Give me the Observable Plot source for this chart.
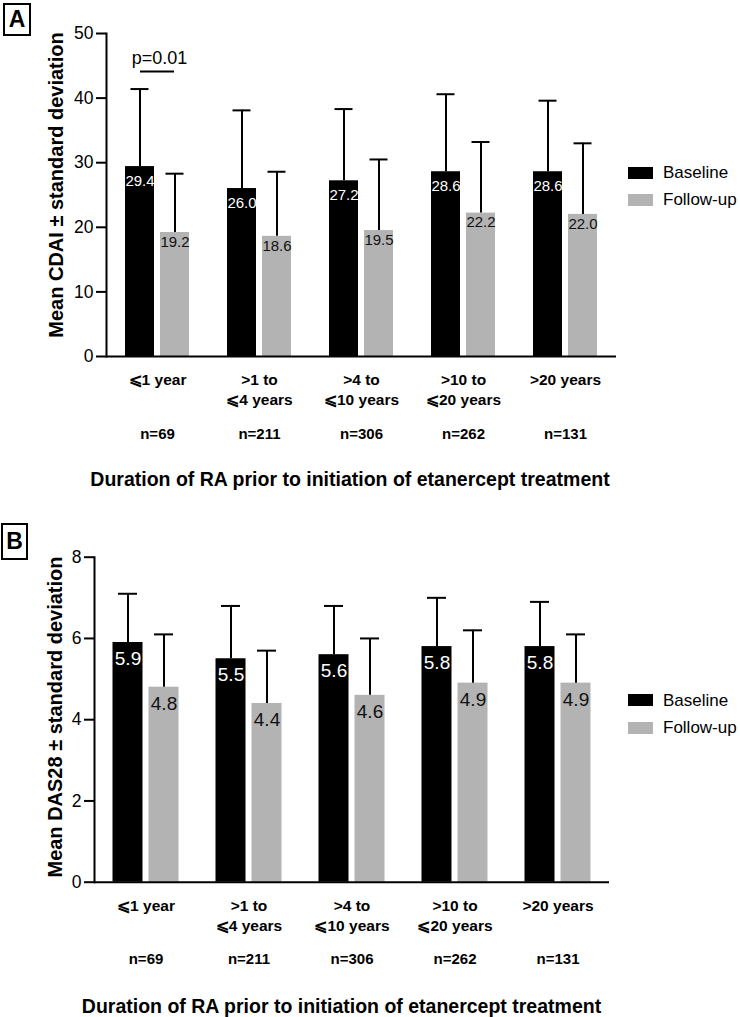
<!DOCTYPE html>
<html><head><meta charset="utf-8">
<script src="https://cdn.jsdelivr.net/npm/d3@7"></script>
<script src="https://cdn.jsdelivr.net/npm/@observablehq/plot@0.6"></script>
<style>
body{margin:0;background:#fff;font-family:"Liberation Sans",Arial,sans-serif;color:#000}
#wrap{position:relative;width:740px;height:1017px;overflow:hidden;background:#fff}
.plabel{position:absolute;border:2px solid #000;box-sizing:border-box;font-weight:bold;font-size:23px;text-align:center}
.ylab{position:absolute;width:400px;height:26px;line-height:26px;text-align:center;font-weight:bold;font-size:20px;transform:rotate(-90deg);white-space:nowrap}
.xtitle{position:absolute;width:700px;text-align:center;font-weight:bold;font-size:19.5px;white-space:nowrap;line-height:24px;height:24px}
.leg{position:absolute;font-size:17px;height:20px;line-height:20px;white-space:nowrap}
.leg span{display:inline-block;width:25px;height:12px;vertical-align:middle;margin-right:10px;position:relative;top:-1px}
</style></head><body><div id="wrap"></div>
<script>
const categories = ["⩽1 year", ">1 to\n⩽4 years", ">4 to\n⩽10 years", ">10 to\n⩽20 years", ">20 years"];
const sampleSizes = ["n=69", "n=211", "n=306", "n=262", "n=131"];
const series = ["Baseline", "Follow-up"];
const seriesColors = ["#000000", "#b3b3b3"];

const cdaiBaseline = [29.4, 26.0, 27.2, 28.6, 28.6];
const cdaiBaselineSD = [12.0, 12.1, 11.1, 12.0, 11.0];
const cdaiFollowup = [19.2, 18.6, 19.5, 22.2, 22.0];
const cdaiFollowupSD = [9.1, 10.0, 11.0, 11.0, 11.0];
const cdaiTicks = [0, 10, 20, 30, 40, 50];

const das28Baseline = [5.9, 5.5, 5.6, 5.8, 5.8];
const das28BaselineSD = [1.2, 1.3, 1.2, 1.2, 1.1];
const das28Followup = [4.8, 4.4, 4.6, 4.9, 4.9];
const das28FollowupSD = [1.3, 1.3, 1.4, 1.3, 1.2];
const das28Ticks = [0, 2, 4, 6, 8];

const pValueText = "p=0.01";
const pValueLevel = 44.1;

const xTitle = "Duration of RA prior to initiation of etanercept treatment";
const FONT = '"Liberation Sans", Arial, sans-serif';

function buildRows(base, baseSD, fu, fuSD) {
  const rows = [];
  categories.forEach((c, i) => {
    rows.push({category: c, series: series[0], mean: base[i], upper: base[i] + baseSD[i]});
    rows.push({category: c, series: series[1], mean: fu[i], upper: fu[i] + fuSD[i]});
  });
  return rows;
}

function panel(o) {
  const rows = o.rows;
  const marks = [
    Plot.barY(rows, {fx: "category", x: "series", y: "mean", fill: "series"}),
    Plot.ruleX(rows, {fx: "category", x: "series", y1: "mean", y2: "upper", stroke: "#000", strokeWidth: 2}),
    Plot.tickY(rows, {fx: "category", x: "series", y: "upper", stroke: "#000", strokeWidth: 2, insetLeft: 5.5, insetRight: 5.5}),
    Plot.text(rows.filter(d => d.series === series[0]), {fx: "category", x: "series", y: "mean", text: d => d.mean.toFixed(1), fill: "#fff", lineAnchor: "top", dy: o.baseDy, fontSize: o.valueSize}),
    Plot.text(rows.filter(d => d.series === series[1]), {fx: "category", x: "series", y: "mean", text: d => d.mean.toFixed(1), fill: "#111", lineAnchor: "top", dy: o.fuDy, fontSize: o.valueSize}),
    Plot.ruleY([0], {stroke: "#000", strokeWidth: 2}),
    Plot.frame({anchor: "left", facetAnchor: "left", stroke: "#000", strokeWidth: 2}),
    Plot.axisY({ticks: o.ticks, tickSize: 10, tickPadding: 3, fontSize: 17.5, strokeWidth: 2, label: null, tickFormat: d => String(d)}),
    Plot.axisFx({anchor: "bottom", tickSize: 0, tickPadding: 14.5, fontSize: 15.5, fontWeight: "bold", lineHeight: 1.29, label: null}),
    Plot.axisFx({anchor: "bottom", tickSize: 0, tickPadding: 71.5, fontSize: 15, fontWeight: "bold", label: null, tickFormat: d => sampleSizes[categories.indexOf(d)]})
  ];
  if (o.pval) {
    const pd = [{category: categories[0], y: pValueLevel}];
    marks.push(Plot.ruleY(pd, {fx: "category", x1: () => series[0], x2: () => series[1], y: "y", stroke: "#000", strokeWidth: 2, insetLeft: 15, insetRight: 15}));
    marks.push(Plot.text(pd, {fx: "category", y: "y", text: () => pValueText, dy: -13, dx: 2, fontSize: 18}));
  }
  return Plot.plot({
    width: 740, height: o.height,
    marginLeft: o.marginLeft, marginRight: o.marginRight, marginTop: o.marginTop, marginBottom: o.marginBottom,
    style: {fontFamily: FONT, background: "transparent", overflow: "visible", color: "#000"},
    fx: {domain: categories, padding: 0, label: null},
    x: {domain: series, paddingInner: 1 / 6, paddingOuter: 0.51, axis: null},
    y: {domain: o.yDomain, axis: null},
    color: {domain: series, range: seriesColors},
    marks
  });
}

const wrap = document.getElementById("wrap");

function place(el, top) {
  el.style.position = "absolute";
  el.style.left = "0px";
  el.style.top = top + "px";
  wrap.appendChild(el);
}

const plotA = panel({
  rows: buildRows(cdaiBaseline, cdaiBaselineSD, cdaiFollowup, cdaiFollowupSD),
  yDomain: [0, 50], ticks: cdaiTicks, height: 505,
  marginLeft: 104, marginRight: 122.25, marginTop: 33, marginBottom: 149,
  baseDy: 8.5, fuDy: 3.5, valueSize: 15, pval: true
});
place(plotA, 0);

const plotB = panel({
  rows: buildRows(das28Baseline, das28BaselineSD, das28Followup, das28FollowupSD),
  yDomain: [0, 8], ticks: das28Ticks, height: 512,
  marginLeft: 93.5, marginRight: 131.5, marginTop: 51.7, marginBottom: 135.3,
  baseDy: 9, fuDy: 9, valueSize: 19, pval: false
});
place(plotB, 505);

function addDiv(cls, html, style) {
  const d = document.createElement("div");
  d.className = cls;
  d.innerHTML = html;
  Object.assign(d.style, style);
  wrap.appendChild(d);
  return d;
}

// panel letters
addDiv("plabel", "A", {left: "3px", top: "3px", width: "28px", height: "33px", lineHeight: "29px"});
addDiv("plabel", "B", {left: "1px", top: "523px", width: "27px", height: "37px", lineHeight: "33px"});

// y-axis titles
addDiv("ylab", "Mean CDAI ± standard deviation", {left: (56 - 200) + "px", top: (185 - 13) + "px"});
addDiv("ylab", "Mean DAS28 ± standard deviation", {left: (55 - 200) + "px", top: (717 - 13) + "px"});

// x-axis titles
addDiv("xtitle", xTitle, {left: (350 - 350) + "px", top: (479 - 12) + "px"});
addDiv("xtitle", xTitle, {left: (341.5 - 350) + "px", top: (1006 - 12) + "px"});

// legends
function legend(cy1, cy2) {
  series.forEach((s, i) => {
    addDiv("leg", `<span style="background:${seriesColors[i]}"></span>${s}`, {left: "628px", top: ((i ? cy2 : cy1) - 10) + "px"});
  });
}
legend(173, 200);
legend(700.7, 728);
</script></body></html>
